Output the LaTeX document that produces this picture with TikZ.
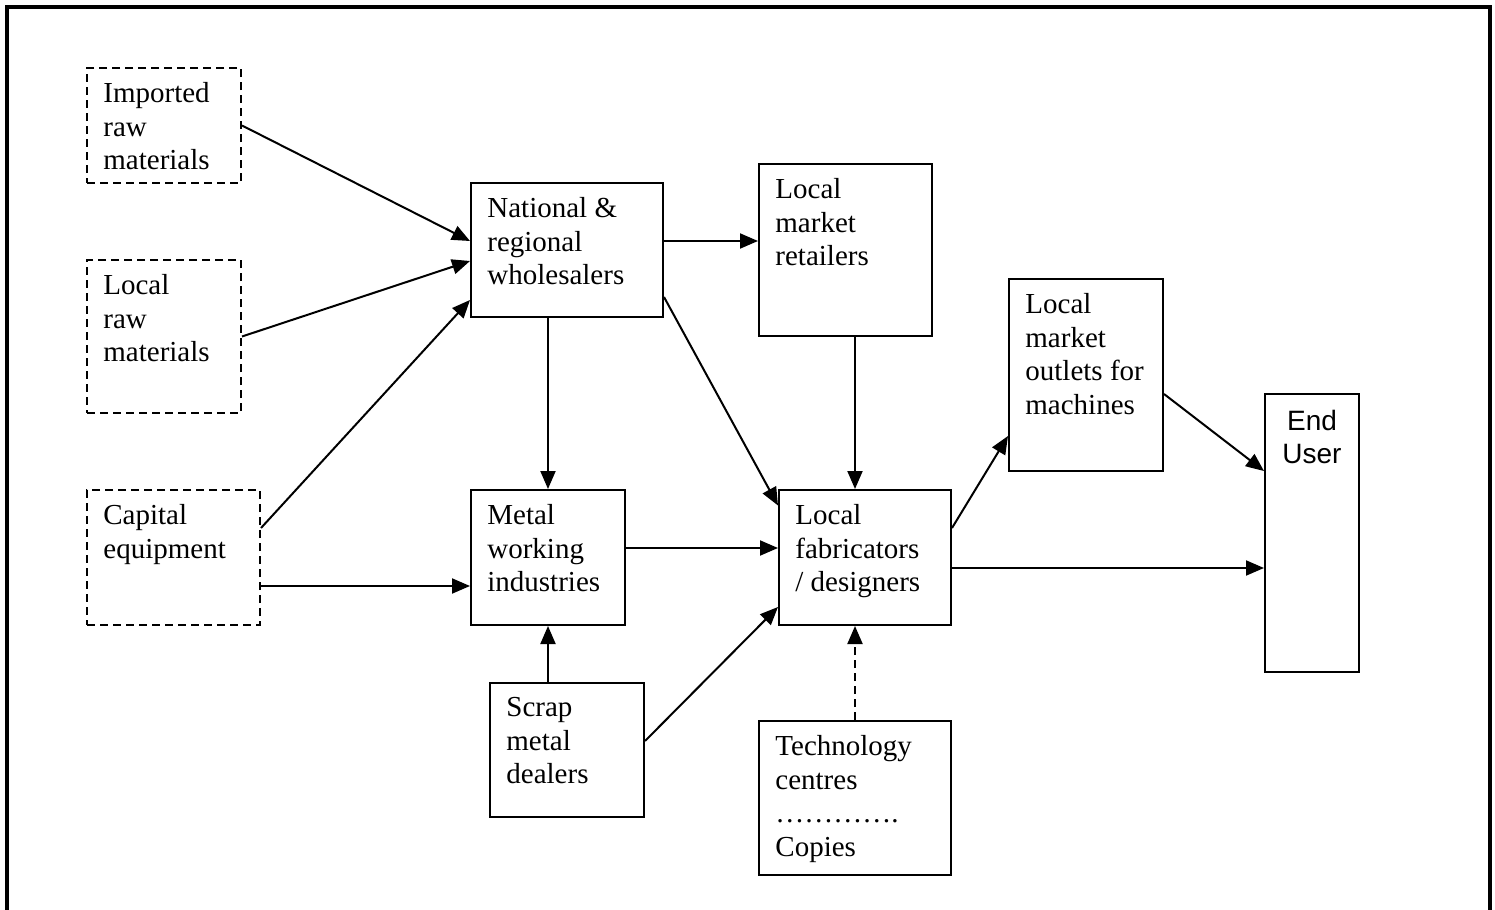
\documentclass[tikz,border=0pt]{standalone}
\usepackage{fontspec}
\setmainfont{Liberation Serif}
\newfontfamily\arialfont{Liberation Sans}
\usetikzlibrary{arrows.meta}
\tikzset{
  blk/.style={draw,line width=1pt,inner sep=0pt,anchor=north west},
  dblk/.style={blk,dash pattern=on 4pt off 2.5pt},
  txt/.style={anchor=north west,inner sep=0pt,align=left,xshift=8.5pt,yshift=-7.6pt,
    font=\fontsize{14.5}{16.75}\selectfont},
  lbl/.style={label={[txt]north west:{#1}}},
  arr/.style={line width=1pt,-{Triangle[length=9pt,width=7.5pt]}}
}
\begin{document}
\begin{tikzpicture}[x=0.5pt,y=-0.5pt]
        \useasboundingbox (0,0) rectangle (1495,910);
        \draw[line width=2pt] (7,912) -- (7,7) -- (1490,7) -- (1490,912);
        % sources
        \node[dblk,minimum width=77pt,minimum height=57.5pt,lbl={Imported\\raw\\materials}] (imp) at (86,67) {};
        \node[dblk,minimum width=77pt,minimum height=76.5pt,lbl={Local\\raw\\materials}] (lraw) at (86,259) {};
        \node[dblk,minimum width=86.5pt,minimum height=67.5pt,lbl={Capital\\equipment}] (cap) at (86,489) {};
        \node[blk,minimum width=96pt,minimum height=67pt,lbl={National \&\\regional\\wholesalers}] (whole) at (470,182) {};
        \node[blk,minimum width=86.5pt,minimum height=86pt,lbl={Local\\market\\retailers}] (ret) at (758,163) {};
        \node[blk,minimum width=77pt,minimum height=96pt,lbl={Local\\market\\outlets for\\machines}] (out) at (1008,278) {};
        \node[blk,minimum width=77pt,minimum height=67.5pt,lbl={Metal\\working\\industries}] (metal) at (470,489) {};
        \node[blk,minimum width=86pt,minimum height=67.5pt,lbl={Local\\fabricators\\/ designers}] (fab) at (778,489) {};
        \node[blk,minimum width=77pt,minimum height=67pt,lbl={Scrap\\metal\\dealers}] (scrap) at (489,682) {};
        \node[blk,minimum width=96pt,minimum height=77pt,lbl={Technology\\centres\\………….\\Copies}] (tech) at (758,720) {};
        \node[blk,minimum width=47pt,minimum height=139pt,
          label={[anchor=north,inner sep=0pt,align=center,yshift=-8.5pt,
          font=\arialfont\fontsize{14}{16.5}\selectfont]north:{End\\User}}] (end) at (1264,393) {};
        % flows
        \draw[arr] (imp.east) -- ([yshift=4.5pt]whole.west);
        \draw[arr] (lraw.east) -- ([yshift=-5.5pt]whole.west);
        \draw[arr] ([yshift=14.75pt]cap.east) -- ([yshift=-25pt]whole.west);
        \draw[arr] ([yshift=-14.25pt]cap.east) -- ([yshift=-14.25pt]metal.west);
        \draw[arr] ([yshift=4.5pt]whole.east) -- ([yshift=4.5pt]ret.west);
        \draw[arr] (whole.south -| metal.north) -- (metal.north);
        \draw[arr] ([yshift=-23.5pt]whole.east) -- ([yshift=26pt]fab.west);
        \draw[arr] (ret.south -| tech.north) -- (fab.north -| tech.north);
        \draw[arr] ([yshift=4.75pt]metal.east) -- ([yshift=4.75pt]fab.west);
        \draw[arr] (scrap.north -| metal.south) -- (metal.south);
        \draw[arr] ([yshift=4.5pt]scrap.east) -- ([yshift=-24.75pt]fab.west);
        \draw[arr,dash pattern=on 4pt off 2.5pt] (tech.north) -- (tech.north |- fab.south);
        \draw[arr] ([yshift=14.75pt]fab.east) -- ([yshift=-30.5pt]out.west);
        \draw[arr] ([yshift=-5.25pt]fab.east) -- ([yshift=-17.5pt]end.west);
        \draw[arr] ([yshift=-9.5pt]out.east) -- ([yshift=31pt]end.west);
      \end{tikzpicture}
\end{document}
